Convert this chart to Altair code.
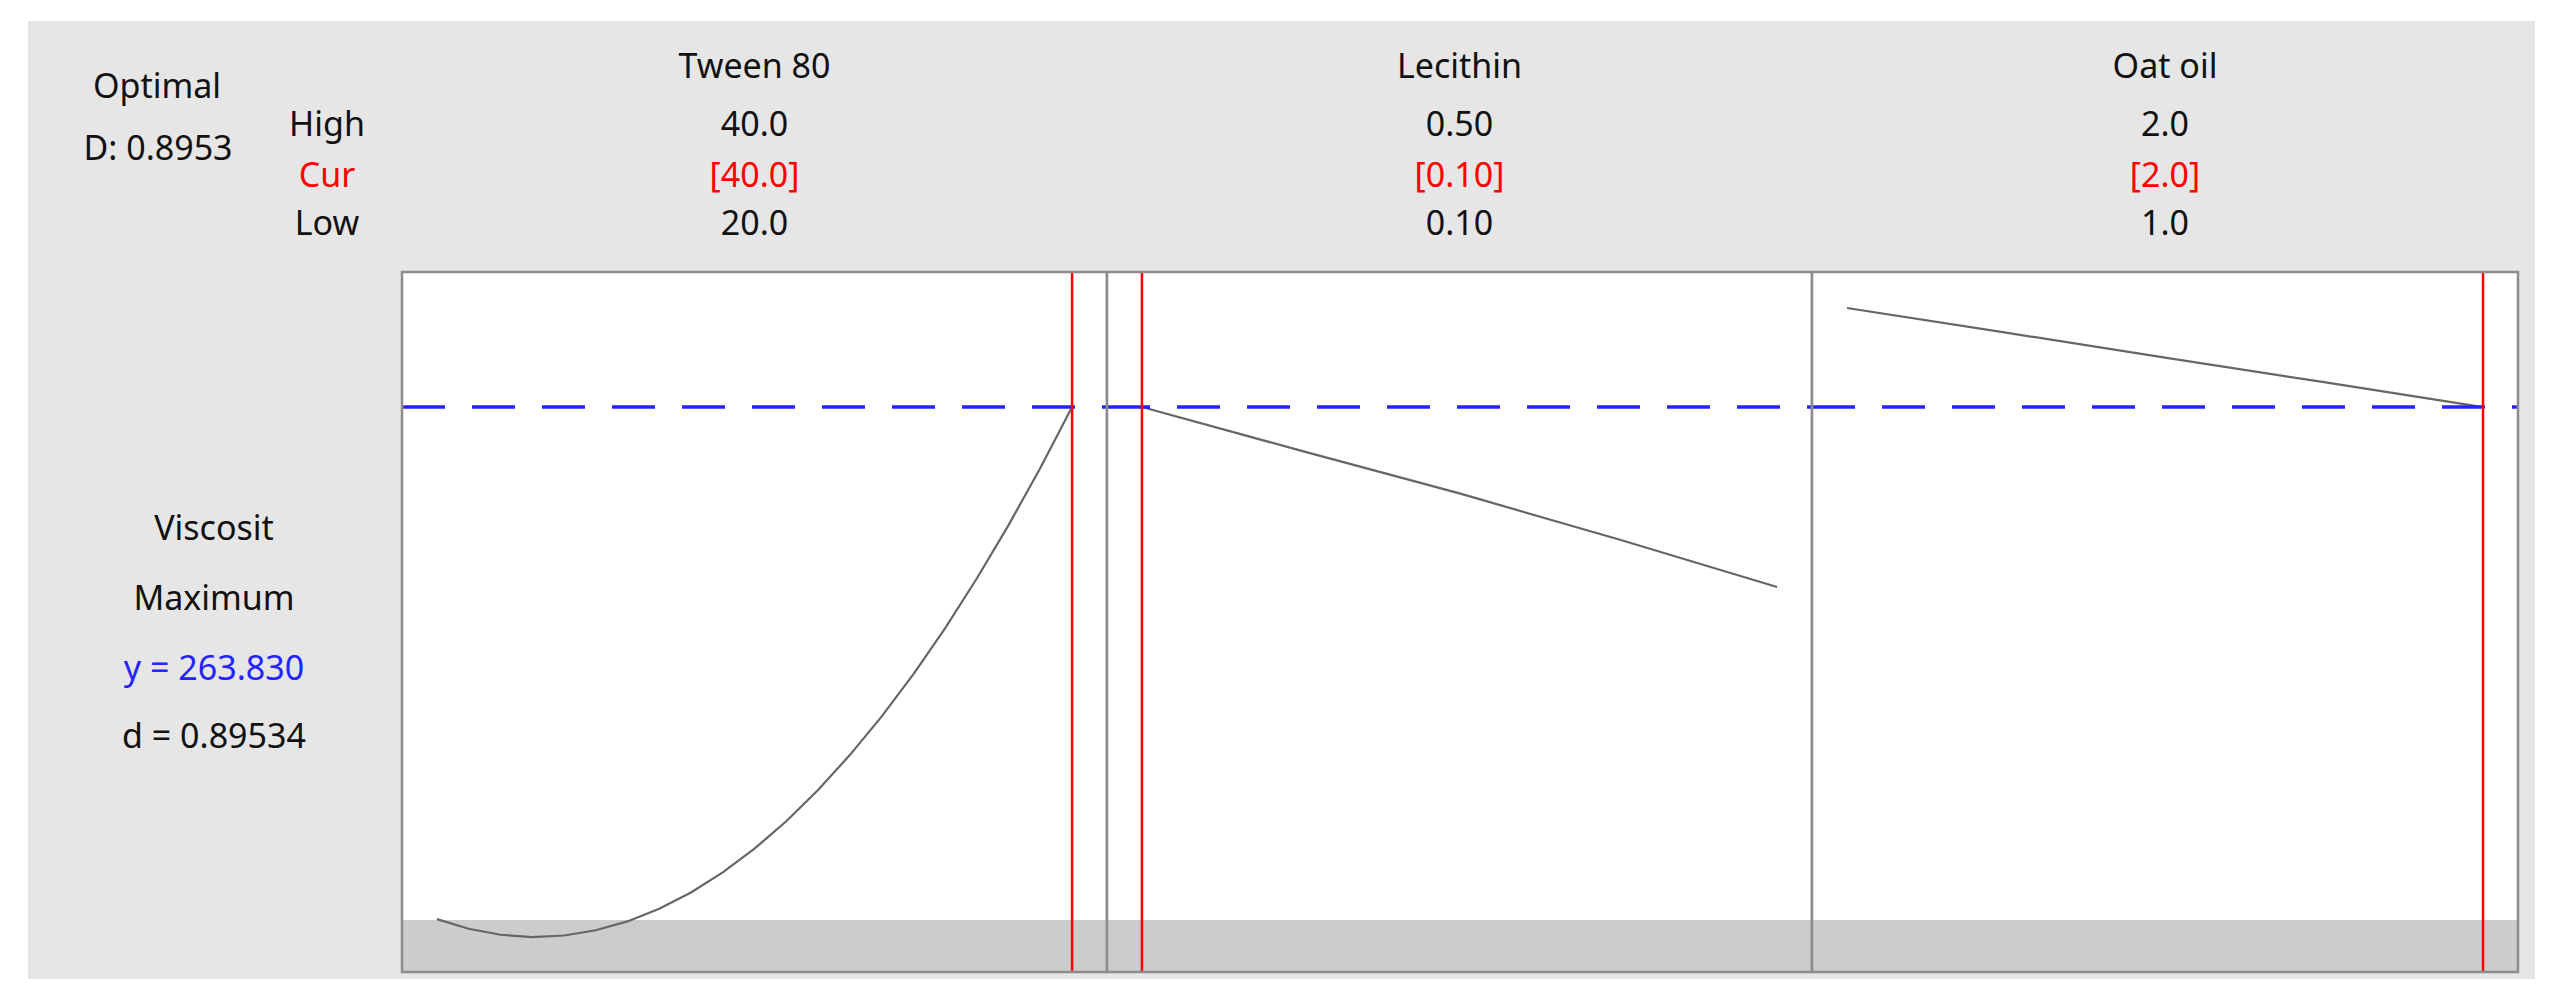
import altair as alt
import pandas as pd

# ---------------- data ----------------
factors = ["Tween 80", "Lecithin", "Oat oil"]
high_labels = ["40.0", "0.50", "2.0"]
cur_labels = ["[40.0]", "[0.10]", "[2.0]"]
low_labels = ["20.0", "0.10", "1.0"]
low_vals = [20.0, 0.10, 1.0]
high_vals = [40.0, 0.50, 2.0]
cur_vals = [40.0, 0.10, 2.0]

tween_x = [20, 21, 22, 23, 24, 25, 26, 27, 28, 29, 30,
           31, 32, 33, 34, 35, 36, 37, 38, 39, 40]
tween_y = [60.3, 56.5, 54.1, 53.2, 53.8, 55.9, 59.4, 64.4, 70.9, 78.9, 88.3,
           99.2, 111.6, 125.5, 140.8, 157.6, 175.9, 195.7, 216.9, 239.6, 263.83]
lecithin_x = [0.10, 0.20, 0.30, 0.40, 0.50]
lecithin_y = [263.83, 246.5, 229.5, 211.3, 192.3]
oat_x = [1.0, 1.25, 1.5, 1.75, 2.0]
oat_y = [303.2, 293.4, 283.5, 273.7, 263.83]

left_top = ["Optimal", "D: 0.8953"]
row_names = ["High", "Cur", "Low"]
response_lines = ["Viscosit", "Maximum", "y = 263.830", "d = 0.89534"]

y_opt = 263.830
lower_bound = 60.0
y_domain = [39.3, 317.5]

# ---------------- style ----------------
FONT = "Noto Sans"
FS = 34
VIEW_H = 958
PLOT_TOP = 251
PLOT_BOTTOM = 951
ROW_Y = [47, 105, 156, 204]
BLACK = "#111111"
RED = "#ff0000"
BLUE = "#2323ff"


def txt(s, x, y, color=BLACK, size=FS):
    return alt.Chart(pd.DataFrame({"t": [s]})).mark_text(
        color=color, fontSize=size, font=FONT, align="center", baseline="middle"
    ).encode(x=alt.value(x), y=alt.value(y), text="t:N")


def panel(i, xs, ys, view_w, plot_w):
    lo, hi = low_vals[i], high_vals[i]
    pad = 0.055 * (hi - lo)
    x_dom = [lo - pad, hi + pad]
    xsc = alt.Scale(domain=x_dom, range=[0, plot_w], nice=False, zero=False)
    ysc = alt.Scale(domain=y_domain, range=[PLOT_BOTTOM, PLOT_TOP], nice=False, zero=False)
    fdf = pd.DataFrame({
        "x0": [x_dom[0]], "x1": [x_dom[1]],
        "y0": [y_domain[0]], "y1": [y_domain[1]],
        "lb": [lower_bound], "yo": [y_opt], "cur": [cur_vals[i]],
    })
    base = alt.Chart(fdf)
    X0 = alt.X("x0:Q", scale=xsc, axis=None)
    Y0 = alt.Y("y0:Q", scale=ysc, axis=None)
    bg = base.mark_rect(color="white").encode(x=X0, x2="x1:Q", y=Y0, y2="y1:Q")
    band = base.mark_rect(color="#cccccc").encode(x=X0, x2="x1:Q", y=Y0, y2="lb:Q")
    curve = alt.Chart(pd.DataFrame({"x": xs, "y": ys})).mark_line(
        color="#666666", strokeWidth=2.2
    ).encode(
        x=alt.X("x:Q", scale=xsc, axis=None),
        y=alt.Y("y:Q", scale=ysc, axis=None),
    )
    hline = base.mark_rule(color=BLUE, strokeWidth=3.5, strokeDash=[43, 27]).encode(
        x=X0, x2="x1:Q", y=alt.Y("yo:Q", scale=ysc, axis=None)
    )
    vline = base.mark_rule(color=RED, strokeWidth=2.5).encode(
        x=alt.X("cur:Q", scale=xsc, axis=None), y=Y0, y2="y1:Q"
    )
    frame = base.mark_rect(fillOpacity=0, stroke="#8c8c8c", strokeWidth=2.5).encode(
        x=X0, x2="x1:Q", y=Y0, y2="y1:Q"
    )
    cx = plot_w / 2
    texts = [
        txt(factors[i], cx, ROW_Y[0]),
        txt(high_labels[i], cx, ROW_Y[1]),
        txt(cur_labels[i], cx, ROW_Y[2], color=RED),
        txt(low_labels[i], cx, ROW_Y[3]),
    ]
    return alt.layer(bg, band, curve, hline, vline, frame, *texts).properties(
        width=view_w, height=VIEW_H
    )


left = alt.layer(
    txt(left_top[0], 129, 67),
    txt(left_top[1], 130, 129),
    txt(row_names[0], 299, ROW_Y[1]),
    txt(row_names[1], 299, ROW_Y[2], color=RED),
    txt(row_names[2], 299, ROW_Y[3]),
    txt(response_lines[0], 186, 509),
    txt(response_lines[1], 186, 579),
    txt(response_lines[2], 186, 649, color=BLUE),
    txt(response_lines[3], 186, 717),
).properties(width=374, height=VIEW_H)

p1 = panel(0, tween_x, tween_y, 705, 705)
p2 = panel(1, lecithin_x, lecithin_y, 705, 705)
p3 = panel(2, oat_x, oat_y, 723, 706)

chart = alt.hconcat(left, p1, p2, p3, spacing=0, bounds="flush").resolve_scale(
    x="independent", y="independent"
).configure_view(
    fill="#e6e6e6", strokeWidth=0
).properties(
    padding={"left": 20, "top": 13, "right": 5, "bottom": 5},
    background="white",
)

chart.save("out.html", embed_options={"renderer": "svg", "actions": False})
